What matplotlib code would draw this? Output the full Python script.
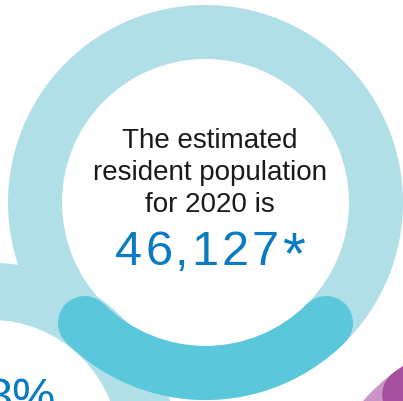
import math
import matplotlib
matplotlib.use("Agg")
import matplotlib.pyplot as plt
from matplotlib.patches import Wedge, Circle

# ---- content -------------------------------------------------------------
headline_lines = ["The estimated", "resident population", "for 2020 is"]
population = 46127
population_suffix = "*"
side_percent_label = "3%"
highlight_share = 0.25          # share of the main ring drawn in the darker tone

# ---- colours -------------------------------------------------------------
LIGHT_BLUE = "#b0dfe8"
TEAL = "#5ac7db"
LIGHT_PURPLE = "#c995c6"
DARK_PURPLE = "#a4509f"
TEXT_BLUE = "#0a7bc3"
TEXT_DARK = "#1a1a1a"

W, H = 403, 401
fig = plt.figure(figsize=(W / 100, H / 100), dpi=100)
ax = fig.add_axes([0, 0, 1, 1])
ax.set_xlim(0, W)
ax.set_ylim(0, H)
ax.axis("off")
renderer = fig.canvas.get_renderer()

FONT = "Liberation Sans"


def ring(cx, cy, r_out, width, color, z=1):
    ax.add_patch(Wedge((cx, cy), r_out, 0, 360, width=width,
                       facecolor=color, edgecolor="none", zorder=z))


def rounded_arc(cx, cy, r_out, width, t1, t2, color, z=2, caps=(True, True)):
    ax.add_patch(Wedge((cx, cy), r_out, t1, t2, width=width,
                       facecolor=color, edgecolor="none", zorder=z))
    r_mid = r_out - width / 2
    for use, t in zip(caps, (t1, t2)):
        if use:
            a = math.radians(t)
            ax.add_patch(Circle((cx + r_mid * math.cos(a), cy + r_mid * math.sin(a)),
                                width / 2, facecolor=color, edgecolor="none", zorder=z))


def ink_width(s, size):
    t = ax.text(0, 0, s, fontsize=size, family=FONT)
    w = t.get_window_extent(renderer).width
    t.remove()
    return w


def tracked_number(xc, yb, digits, suffix, size, suffix_scale, tracking, color):
    """Draw a number with a little letter-spacing and an enlarged suffix."""
    chars = list(digits)
    lefts, x = [], 0.0
    for i, ch in enumerate(chars):
        if i > 0:
            prev = chars[i - 1]
            gap = ink_width(prev + ch, size) - ink_width(prev, size) - ink_width(ch, size)
            x += ink_width(prev, size) + gap + tracking
        lefts.append(x)
    last_w = ink_width(chars[-1], size)
    suf_size = size * suffix_scale
    suf_left = x + last_w + tracking
    total = suf_left + ink_width(suffix, suf_size)
    x0 = xc - total / 2
    for ch, lx in zip(chars, lefts):
        ax.text(x0 + lx, yb, ch, ha="left", va="baseline", fontsize=size,
                family=FONT, color=color, zorder=5)
    # suffix top aligned with the digit tops
    em_main = size * 100 / 72
    em_suf = suf_size * 100 / 72
    top = yb + 0.716 * em_main
    ax.text(x0 + suf_left, top - 0.716 * em_suf, suffix, ha="left",
            va="baseline", fontsize=suf_size, family=FONT, color=color, zorder=5)


# secondary ring, lower left
ring(-9.6, H - 448.8, 186, 57, LIGHT_BLUE, z=1)

# main ring with highlighted bottom segment
cx, cy, r_out, width = 205.5, H - 202.5, 197.5, 54
ring(cx, cy, r_out, width, LIGHT_BLUE, z=1)
span = 360 * highlight_share
rounded_arc(cx, cy, r_out, width, -90 - span / 2, -90 + span / 2, TEAL, z=3)

# purple ring, lower right
pcx, pcy = 511.8, H - 530.9
ring(pcx, pcy, 197.5, 54, LIGHT_PURPLE, z=1)
rounded_arc(pcx, pcy, 197.5, 54, 40, 127, DARK_PURPLE, z=2, caps=(False, True))

# headline text
baselines = [H - 147.5, H - 179.5, H - 212]
for line, yb in zip(headline_lines, baselines):
    ax.text(210, yb, line, ha="center", va="baseline", fontsize=20,
            color=TEXT_DARK, family=FONT, zorder=5)

tracked_number(210, H - 265, f"{population:,}", population_suffix,
               size=35, suffix_scale=1.22, tracking=3.0, color=TEXT_BLUE)

ax.text(55, H - 412, side_percent_label, ha="right", va="baseline",
        fontsize=35, color=TEXT_BLUE, family=FONT, zorder=5, clip_on=False)

fig.savefig("out.png", dpi=100, facecolor="white")
